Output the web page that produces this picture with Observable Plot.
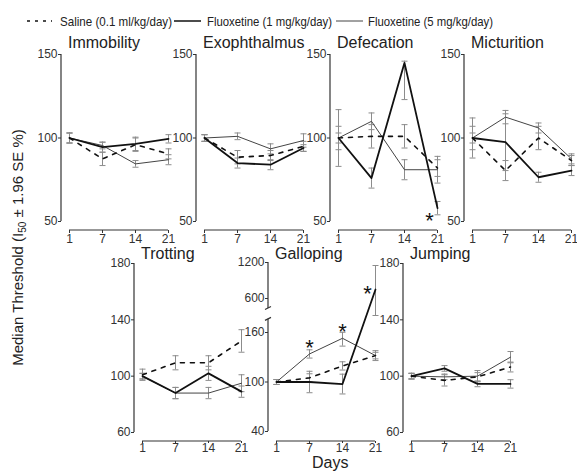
<!DOCTYPE html>
<html><head><meta charset="utf-8">
<script src="https://cdn.jsdelivr.net/npm/d3@7"></script>
<script src="https://cdn.jsdelivr.net/npm/@observablehq/plot@0.6"></script>
<style>
body{margin:0;background:#fff;font-family:"Liberation Sans",Arial,sans-serif;}
#root{position:relative;width:577px;height:471px;overflow:hidden;background:#fff}
.title{position:absolute;font-size:16px;color:#222;line-height:16px;white-space:nowrap}
.ylab{position:absolute;font-size:15px;color:#222;white-space:nowrap;transform-origin:center center}
</style></head><body><div id="root"></div>
<script>
// ---------- data ----------
const days = [1, 7, 14, 21];
const seriesNames = ["Saline (0.1 ml/kg/day)", "Fluoxetine (1 mg/kg/day)", "Fluoxetine (5 mg/kg/day)"];
const panelTitles = ["Immobility", "Exophthalmus", "Defecation", "Micturition", "Trotting", "Galloping", "Jumping"];

// values (% of day 1) and error half-widths ([down, up] where asymmetric)
const immobilitySaline = [100, 87.5, 96, 90.5];
const immobilitySalineErr = [3, 4, 4, 3];
const immobilityF1 = [100, 94.5, 96.5, 99.5];
const immobilityF1Err = [3, 3, 4, 2.5];
const immobilityF5 = [100, 95.5, 84.5, 87];
const immobilityF5Err = [3, 2, 2, 3];

const exophthalmusSaline = [100, 88.5, 89.5, 95];
const exophthalmusSalineErr = [2, 4, 3, 3];
const exophthalmusF1 = [100, 85, 84, 94];
const exophthalmusF1Err = [2, 3, 3, 2];
const exophthalmusF5 = [100, 101, 93.5, 98.5];
const exophthalmusF5Err = [2, 2, 3, 4];

const defecationSaline = [100, 101, 101, 82];
const defecationSalineErr = [3, 7, 7, 5];
const defecationF1 = [100, 76, 145, 58];
const defecationF1Err = [17, 6, [22, 1], 4];
const defecationF5 = [100, 110, 81, 81];
const defecationF5Err = [7, 5, 6, 8];

const micturitionSaline = [100, 80.5, 100, 86.5];
const micturitionSalineErr = [7, 6, 7, 3];
const micturitionF1 = [100, 97.5, 76.5, 80.5];
const micturitionF1Err = [3, 17, 3, 3];
const micturitionF5 = [100, 112.5, 106, 87.5];
const micturitionF5Err = [12, 4, 3, 3];

const trottingSaline = [101, 109.5, 109.5, 125];
const trottingSalineErr = [4, 5, 5, 8];
const trottingF1 = [100, 88, 102, 89];
const trottingF1Err = [2, 4, 5, 4];
const trottingF5 = [100, 88, 88, 95];
const trottingF5Err = [2, 4, 4, 6];

const gallopingSaline = [100, 105, 119.5, 132];
const gallopingSalineErr = [3, 5, 5, 6];
const gallopingF1 = [100, 100, 97.5, 750];
const gallopingF1Err = [3, 13, 12, [370, 400]];
const gallopingF5 = [100, 134, 153, 132];
const gallopingF5Err = [3, 5, 9.5, 4];

const jumpingSaline = [100, 97, 99.5, 106.5];
const jumpingSalineErr = [2, 4, 3, 3.5];
const jumpingF1 = [100, 105.5, 94.5, 94.5];
const jumpingF1Err = [2, 2, 2, 3];
const jumpingF5 = [100, 99.5, 100, 113.5];
const jumpingF5Err = [2, 2, 4, 4];

// y-axis ticks
const topTicks = [50, 100, 150];
const locoTicks = [60, 100, 140, 180];
const gallopTicks = [40, 100, 160, 600, 1200];

// significance markers: [panel, day, series]
const stars = [["Defecation", 21, 1], ["Galloping", 7, 2], ["Galloping", 14, 2], ["Galloping", 21, 1]];

// ---------- layout ----------
const root = document.getElementById("root");
const styles = [
  {stroke: "#111", strokeWidth: 1.6, strokeDasharray: "4 6"},
  {stroke: "#111", strokeWidth: 1.8},
  {stroke: "#444", strokeWidth: 1}
];
const capSymbol = {draw(ctx) { ctx.moveTo(-3, 0); ctx.lineTo(3, 0); }};
const panels = [
  {title: "Immobility", data: [[immobilitySaline, immobilitySalineErr], [immobilityF1, immobilityF1Err], [immobilityF5, immobilityF5Err]], axisX: 61, row: 0},
  {title: "Exophthalmus", data: [[exophthalmusSaline, exophthalmusSalineErr], [exophthalmusF1, exophthalmusF1Err], [exophthalmusF5, exophthalmusF5Err]], axisX: 196, row: 0},
  {title: "Defecation", data: [[defecationSaline, defecationSalineErr], [defecationF1, defecationF1Err], [defecationF5, defecationF5Err]], axisX: 330, row: 0},
  {title: "Micturition", data: [[micturitionSaline, micturitionSalineErr], [micturitionF1, micturitionF1Err], [micturitionF5, micturitionF5Err]], axisX: 464, row: 0},
  {title: "Trotting", data: [[trottingSaline, trottingSalineErr], [trottingF1, trottingF1Err], [trottingF5, trottingF5Err]], axisX: 134, row: 1},
  {title: "Galloping", data: [[gallopingSaline, gallopingSalineErr], [gallopingF1, gallopingF1Err], [gallopingF5, gallopingF5Err]], axisX: 268, row: 1, broken: true},
  {title: "Jumping", data: [[jumpingSaline, jumpingSalineErr], [jumpingF1, jumpingF1Err], [jumpingF5, jumpingF5Err]], axisX: 403, row: 1}
];

const ML = 30, W = 142;
function drawPanel(p) {
  const rows = [];
  p.data.forEach(([vals, errs], si) => vals.forEach((v, i) => {
    const e = errs[i];
    const dn = Array.isArray(e) ? e[0] : e, up = Array.isArray(e) ? e[1] : e;
    rows.push({series: si, day: days[i], v, lo: v - dn, hi: v + up});
  }));
  let H, top, y;
  if (p.row === 0) {
    H = 210; top = 44;
    y = {type: "linear", domain: [50, 150], range: [177, 10]};
  } else {
    H = 212; top = 253;
    y = p.broken
      ? {type: "linear", domain: [40, 160, 600, 1200], range: [178, 79, 45, 9]}
      : {type: "linear", domain: [60, 180], range: [179, 10]};
  }
  const yTicks = p.row === 0 ? topTicks : (p.broken ? gallopTicks : locoTicks);
  const marks = [
    Plot.axisY({ticks: yTicks, tickFormat: d => String(d), tickSize: 3, tickPadding: 1, label: null, fontSize: 12}),
    Plot.axisX({ticks: days, tickSize: p.row === 0 ? 3 : 2, tickPadding: p.row === 0 ? 1 : 0, label: null, fontSize: 12}),
    Plot.ruleX(rows, {x: "day", y1: "lo", y2: "hi", stroke: "#8c8c8c", strokeWidth: 1}),
    Plot.dot(rows, {x: "day", y: "lo", symbol: capSymbol, stroke: "#8c8c8c", fill: "none", strokeWidth: 1}),
    Plot.dot(rows, {x: "day", y: "hi", symbol: capSymbol, stroke: "#8c8c8c", fill: "none", strokeWidth: 1}),
    ...[2, 0, 1].map(si => Plot.line(rows.filter(d => d.series === si), {x: "day", y: "v", ...styles[si]}))
  ];
  stars.filter(s => s[0] === p.title).forEach(([, day, si]) => {
    const r = rows.find(d => d.day === day && d.series === si);
    const side = (day === 21);
    marks.push(Plot.text([r], {x: "day", y: "v", text: () => "*", fontSize: 22, fill: "#111",
      dx: side ? -8 : 0, dy: side ? (p.title === "Defecation" ? 13 : 4) : -6, textAnchor: "middle"}));
  });
  const fig = Plot.plot({
    width: W, height: H, marginLeft: ML, marginRight: 5, marginTop: 10, marginBottom: 24,
    x: {type: "point", domain: days, range: [ML + 7, ML + 107], padding: 0},
    y,
    style: {fontFamily: "Liberation Sans, Arial, sans-serif", fontSize: "12px", color: "#333", background: "transparent", overflow: "visible"},
    marks
  });
  const sx = fig.scale("x"), sy = fig.scale("y");
  const svg = d3.select(fig);
  const g = svg.append("g").attr("stroke", "#333").attr("stroke-width", 1.2).attr("fill", "none");
  const yd = y.domain;
  if (p.broken) {
    g.append("line").attr("x1", ML).attr("x2", ML).attr("y1", sy.apply(yd[0])).attr("y2", sy.apply(330));
    g.append("line").attr("x1", ML).attr("x2", ML).attr("y1", sy.apply(470)).attr("y2", sy.apply(yd[yd.length - 1]));
    [330, 470].forEach(v => {
      const yy = sy.apply(v);
      g.append("line").attr("x1", ML - 3).attr("x2", ML + 3).attr("y1", yy + 1.5).attr("y2", yy - 1.5);
    });
  } else {
    g.append("line").attr("x1", ML).attr("x2", ML).attr("y1", sy.apply(yd[0])).attr("y2", sy.apply(yd[yd.length - 1]));
  }
  g.append("line").attr("x1", sx.apply(days[0])).attr("x2", sx.apply(days[3])).attr("y1", H - 24).attr("y2", H - 24);
  fig.style.position = "absolute";
  fig.style.left = (p.axisX - ML) + "px";
  fig.style.top = top + "px";
  root.appendChild(fig);
  const t = document.createElement("div");
  t.className = "title";
  t.textContent = p.title;
  t.style.left = (p.axisX + 7) + "px";
  t.style.top = (p.row === 0 ? 35 : 246) + "px";
  root.appendChild(t);
}
panels.forEach(drawPanel);

// legend
const leg = d3.create("svg").attr("width", 577).attr("height", 34)
  .style("position", "absolute").style("left", "0px").style("top", "0px");
const legItems = [
  {x1: 27, x2: 52, tx: 60, len: 112, st: styles[0], dash: "3 5", w: 1.4},
  {x1: 174, x2: 201, tx: 207, len: 125, st: styles[1], w: 1.5},
  {x1: 336, x2: 363, tx: 368, len: 125, st: styles[2], w: 1}
];
legItems.forEach((it, i) => {
  leg.append("line").attr("x1", it.x1).attr("x2", it.x2).attr("y1", 21).attr("y2", 21)
    .attr("stroke", it.st.stroke).attr("stroke-width", it.w).attr("stroke-dasharray", it.dash || null);
  leg.append("text").attr("x", it.tx).attr("y", 26).attr("font-size", 13)
    .attr("textLength", it.len).attr("lengthAdjust", "spacingAndGlyphs")
    .attr("font-family", "Liberation Sans, Arial, sans-serif").attr("fill", "#222").text(seriesNames[i]);
});
root.appendChild(leg.node());

// axis titles
const yl = document.createElement("div");
yl.className = "ylab";
yl.innerHTML = "Median Threshold (I<sub style='font-size:10px;vertical-align:-3px'>50</sub> ± 1.96 SE %)";
root.appendChild(yl);
const w = yl.offsetWidth, h = yl.offsetHeight;
yl.style.left = (18 - w / 2) + "px";
yl.style.top = (247 - h / 2) + "px";
yl.style.transform = "rotate(-90deg)";

const dl = document.createElement("div");
dl.className = "title";
dl.textContent = "Days";
dl.style.fontSize = "16px";
root.appendChild(dl);
dl.style.left = (330 - dl.offsetWidth / 2) + "px";
dl.style.top = "455px";
</script></body></html>
